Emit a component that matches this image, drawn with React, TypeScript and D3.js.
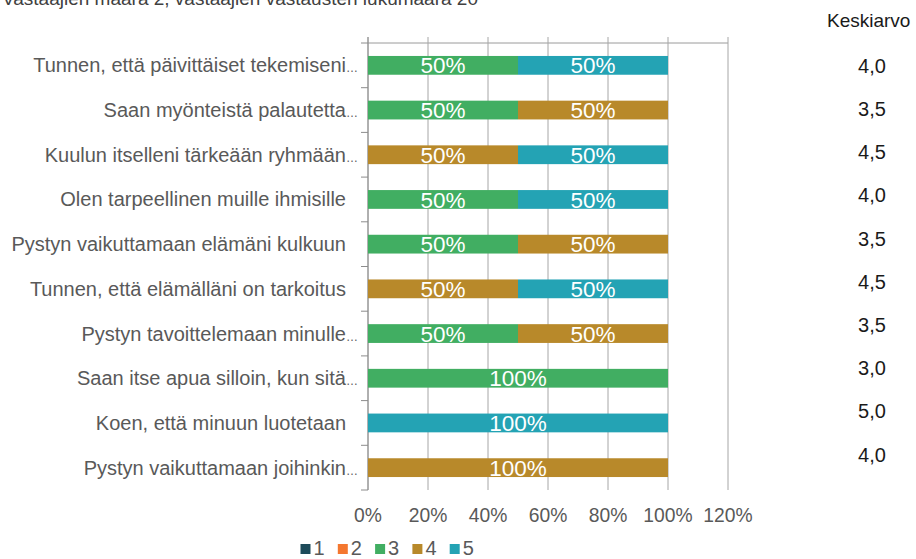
import React from "react";
import * as d3 from "d3";

const title = "Vastaajien määrä 2, vastaajien vastausten lukumäärä 20";
const categories = [
  "Tunnen, että päivittäiset tekemiseni…",
  "Saan myönteistä palautetta…",
  "Kuulun itselleni tärkeään ryhmään…",
  "Olen tarpeellinen muille ihmisille",
  "Pystyn vaikuttamaan elämäni kulkuun",
  "Tunnen, että elämälläni on tarkoitus",
  "Pystyn tavoittelemaan minulle…",
  "Saan itse apua silloin, kun sitä…",
  "Koen, että minuun luotetaan",
  "Pystyn vaikuttamaan joihinkin…",
];
const seriesKeys = ["1", "2", "3", "4", "5"];
const s1 = [0, 0, 0, 0, 0, 0, 0, 0, 0, 0];
const s2 = [0, 0, 0, 0, 0, 0, 0, 0, 0, 0];
const s3 = [0.5, 0.5, 0, 0.5, 0.5, 0, 0.5, 1, 0, 0];
const s4 = [0, 0.5, 0.5, 0, 0.5, 0.5, 0.5, 0, 0, 1];
const s5 = [0.5, 0, 0.5, 0.5, 0, 0.5, 0, 0, 1, 0];
const averages = ["4,0", "3,5", "4,5", "4,0", "3,5", "4,5", "3,5", "3,0", "5,0", "4,0"];
const xTicks = [0, 0.2, 0.4, 0.6, 0.8, 1.0, 1.2];
const avgHeader = "Keskiarvo";
const colors = ["#1d4b5a", "#f4772f", "#41ae62", "#b8892a", "#24a3b4"];

const FONT = "'Liberation Sans', Arial, sans-serif";

export default function App() {
  const W = 916, H = 559;
  const left = 368, right = 728, top = 43, bottom = 490;
  const x = d3.scaleLinear().domain([0, 1.2]).range([left, right]);
  const y = d3.scaleBand<string>().domain(categories).range([top, bottom]).paddingInner(0.58).paddingOuter(0.29);
  const yOuter = d3.scaleBand<string>().domain(categories).range([top, bottom]);
  const avgScale = d3.scaleBand<number>().domain(d3.range(averages.length)).range([44, 476]);

  const rows = categories.map((c, i) => ({
    cat: c, "1": s1[i], "2": s2[i], "3": s3[i], "4": s4[i], "5": s5[i],
  }));
  const stacked = d3.stack<any>().keys(seriesKeys)(rows);
  const fmt = d3.format(".0%");

  return (
    <svg width={W} height={H} style={{ position: "absolute", left: 0, top: 0, background: "#fff" }} fontFamily={FONT}>
      <text x={2} y={5} fontSize={19} fill="#404040">{title}</text>

      {/* top line */}
      <line x1={left} x2={right} y1={top} y2={top} stroke="#9a9a9a" strokeWidth={1} />
      {/* vertical gridlines */}
      {xTicks.map((t) => (
        <line key={t} x1={x(t)} x2={x(t)} y1={top - 6} y2={bottom} stroke="#a6a6a6" strokeWidth={1} />
      ))}
      {/* left axis */}
      <line x1={left} x2={left} y1={top - 6} y2={bottom} stroke="#8c8c8c" strokeWidth={1} />
      {categories.map((c) => (
        <line key={"t" + c} x1={left - 7} x2={left} y1={yOuter(c)!} y2={yOuter(c)!} stroke="#8c8c8c" />
      ))}
      <line x1={left - 7} x2={left} y1={bottom} y2={bottom} stroke="#8c8c8c" />

      {/* bars */}
      {stacked.map((layer, li) =>
        layer.map((d, i) => {
          const w = x(d[1]) - x(d[0]);
          if (w <= 0) return null;
          const cy = y(categories[i])! + y.bandwidth() / 2;
          return (
            <g key={li + "-" + i}>
              <rect x={x(d[0])} y={y(categories[i])} width={w} height={y.bandwidth()} fill={colors[li]} />
              <text x={(x(d[0]) + x(d[1])) / 2} y={cy} dy="0.36em" textAnchor="middle" fontSize={22.5} fill="#fff">
                {fmt(d[1] - d[0])}
              </text>
            </g>
          );
        })
      )}

      {/* category labels */}
      {categories.map((c) => {
        const cy = yOuter(c)! + yOuter.bandwidth() / 2;
        const trunc = c.endsWith("…");
        return (
          <text key={"l" + c} x={trunc ? 358 : 346} y={cy} dy="0.35em" textAnchor="end" fontSize={20} fill="#595959">
            {trunc ? (
              <>
                {c.slice(0, -1)}
                <tspan fontSize={12}>…</tspan>
              </>
            ) : c}
          </text>
        );
      })}

      {/* x tick labels */}
      {xTicks.map((t) => (
        <text key={"x" + t} x={x(t)} y={522} textAnchor="middle" fontSize={19.3} fill="#595959">{fmt(t)}</text>
      ))}

      {/* averages */}
      <text x={827} y={27} fontSize={19} fill="#1a1a1a">{avgHeader}</text>
      {averages.map((a, i) => (
        <text key={"a" + i} x={872} y={avgScale(i)! + avgScale.bandwidth() / 2} dy="0.36em" textAnchor="middle" fontSize={20} fill="#1a1a1a">{a}</text>
      ))}

      {/* legend */}
      {seriesKeys.map((k, i) => (
        <g key={"lg" + k} transform={`translate(${300.5 + i * 37.3},544)`}>
          <rect x={0} y={0} width={10} height={10} fill={colors[i]} />
          <text x={13} y={11} fontSize={20} fill="#595959">{k}</text>
        </g>
      ))}
    </svg>
  );
}
